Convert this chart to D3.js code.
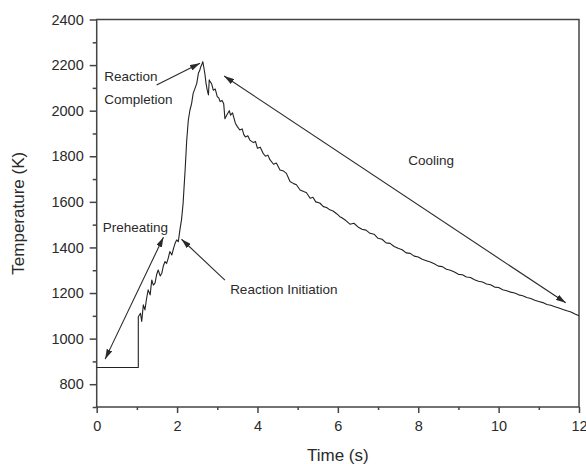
<!DOCTYPE html>
<html><head><meta charset="utf-8">
<script src="https://cdn.jsdelivr.net/npm/d3@7"></script>
<style>body{margin:0;background:#fff}svg{display:block}text{font-family:"Liberation Sans",Arial,sans-serif;fill:#2a2a2a}</style>
</head><body>
<script>
const timeS = [0,1.035,1.035,1.09,1.12,1.16,1.20,1.24,1.28,1.33,1.37,1.41,1.45,1.49,1.53,1.58,1.62,1.66,1.70,1.74,1.78,1.82,1.87,1.91,1.95,1.99,2.03,2.07,2.11,2.15,2.17,2.20,2.24,2.28,2.32,2.36,2.40,2.45,2.49,2.53,2.56,2.59,2.62,2.64,2.67,2.69,2.72,2.75,2.78,2.80,2.83,2.86,2.90,2.95,3.00,3.04,3.07,3.12,3.16,3.19,3.25,3.30,3.33,3.38,3.45,3.50,3.56,3.62,3.66,3.70,3.76,3.81,3.90,3.95,4.00,4.07,4.14,4.20,4.26,4.31,4.40,4.47,4.56,4.65,4.72,4.81,4.90,4.97,5.06,5.15,5.22,5.31,5.38,5.45,5.55,5.64,5.72,5.80,5.88,5.97,6.05,
  6.1,6.2,6.3,6.4,6.5,6.6,6.7,6.8,6.9,7.0,7.1,7.2,7.3,7.4,7.5,7.6,7.7,7.8,7.9,8.0,8.1,8.2,8.3,8.4,8.5,8.6,8.7,8.8,8.9,9.0,9.1,9.2,9.3,9.4,9.5,9.6,9.7,9.8,9.9,10.0,10.1,10.2,10.3,10.4,10.5,10.6,10.7,10.8,10.9,11.0,11.1,11.2,11.3,11.4,11.5,11.6,11.7,11.8,11.9,12.0];
const tempK = [873,873,1096,1111,1075,1148,1126,1175,1214,1192,1257,1235,1243,1280,1301,1275,1287,1320,1338,1330,1353,1382,1367,1395,1418,1433,1425,1477,1521,1594,1653,1740,1871,1959,2003,2030,2076,2100,2120,2164,2175,2193,2205,2215,2185,2164,2120,2090,2069,2135,2125,2118,2090,2095,2062,2055,2040,2045,2030,1965,1985,2000,1980,1990,1945,1930,1915,1920,1895,1885,1890,1871,1860,1865,1835,1840,1813,1800,1805,1785,1765,1770,1740,1735,1725,1689,1680,1675,1652,1645,1640,1616,1620,1600,1595,1579,1575,1565,1560,1548,1535,
  1530,1518,1502,1506,1490,1480,1476,1462,1458,1440,1436,1420,1418,1404,1396,1390,1376,1374,1362,1358,1348,1342,1336,1328,1318,1316,1304,1300,1292,1282,1280,1270,1268,1258,1252,1248,1240,1236,1226,1224,1214,1210,1204,1200,1192,1188,1180,1176,1168,1163,1158,1150,1146,1140,1134,1128,1122,1117,1108,1100];

const xTicks = [0,2,4,6,8,10,12];
const yTicks = [800,1000,1200,1400,1600,1800,2000,2200,2400];
const xMinor = [1,3,5,7,9,11];
const yMinor = [700,900,1100,1300,1500,1700,1900,2100,2300];

const labels = [
  {text:"Reaction", t:0.19, T:2130},
  {text:"Completion", t:0.19, T:2029},
  {text:"Preheating", t:0.15, T:1469},
  {text:"Reaction Initiation", t:3.32, T:1196},
  {text:"Cooling", t:7.75, T:1762}
];
const arrows = [
  {t1:1.49, T1:2113, t2:2.57, T2:2208, both:false},
  {t1:3.17, T1:2152, t2:11.67, T2:1157, both:true},
  {t1:0.21, T1:910, t2:1.66, T2:1445, both:true},
  {t1:3.19, T1:1257, t2:2.11, T2:1436, both:false}
];

const W = 586, H = 464;
const m = {l:96.7, r:7, t:19.5, b:57};
const svg = d3.select("body").append("svg").attr("width", W).attr("height", H);
const x = d3.scaleLinear().domain([0,12]).range([m.l, W - m.r]);
const y = d3.scaleLinear().domain([700,2400]).range([H - m.b, m.t]);

const defs = svg.append("defs");
defs.append("marker").attr("id","ah").attr("viewBox","0 0 10 6").attr("refX",10).attr("refY",3)
  .attr("markerWidth",10).attr("markerHeight",6).attr("markerUnits","userSpaceOnUse").attr("orient","auto-start-reverse")
  .append("path").attr("d","M0,0 L10,3 L0,6 Z").attr("fill","#2a2a2a");

const axisColor = "#444";
svg.append("rect").attr("x", m.l).attr("y", m.t).attr("width", W - m.r - m.l).attr("height", H - m.b - m.t)
  .attr("fill","none").attr("stroke",axisColor).attr("stroke-width",1.5);

const xa = svg.append("g").attr("transform",`translate(0,${H - m.b})`)
  .call(d3.axisBottom(x).tickValues(xTicks).tickSize(6).tickPadding(8).tickFormat(d3.format("d")));
const xm = svg.append("g").attr("transform",`translate(0,${H - m.b})`)
  .call(d3.axisBottom(x).tickValues(xMinor).tickSize(3).tickFormat(""));
const ya = svg.append("g").attr("transform",`translate(${m.l},0)`)
  .call(d3.axisLeft(y).tickValues(yTicks).tickSize(7).tickPadding(6).tickFormat(d3.format("d")));
const ym = svg.append("g").attr("transform",`translate(${m.l},0)`)
  .call(d3.axisLeft(y).tickValues(yMinor).tickSize(4).tickFormat(""));
[xa,xm,ya,ym].forEach(g => {
  g.select(".domain").remove();
  g.selectAll("line").attr("stroke",axisColor).attr("stroke-width",1.5);
  g.selectAll("text").attr("font-size",14.5).attr("fill","#2a2a2a").style("font-family","'Liberation Sans',Arial,sans-serif");
});

svg.append("text").attr("x", (m.l + W - m.r)/2).attr("y", 461).attr("text-anchor","middle")
  .attr("font-size",17).text("Time (s)");
svg.append("text").attr("transform",`translate(24,${(m.t + H - m.b)/2}) rotate(-90)`).attr("text-anchor","middle")
  .attr("font-size",17).text("Temperature (K)");

const line = d3.line().x((d,i)=>x(timeS[i])).y((d,i)=>y(tempK[i]));
svg.append("path").datum(tempK).attr("d", line).attr("fill","none").attr("stroke","#222").attr("stroke-width",1.1).attr("stroke-linejoin","round");

arrows.forEach(a => {
  const l = svg.append("line").attr("x1",x(a.t1)).attr("y1",y(a.T1)).attr("x2",x(a.t2)).attr("y2",y(a.T2))
    .attr("stroke","#2a2a2a").attr("stroke-width",1.1).attr("marker-end","url(#ah)");
  if (a.both) l.attr("marker-start","url(#ah)");
});

labels.forEach(lb => {
  svg.append("text").attr("x",x(lb.t)).attr("y",y(lb.T)).attr("font-size",13.5).text(lb.text);
});
</script>
</body></html>
